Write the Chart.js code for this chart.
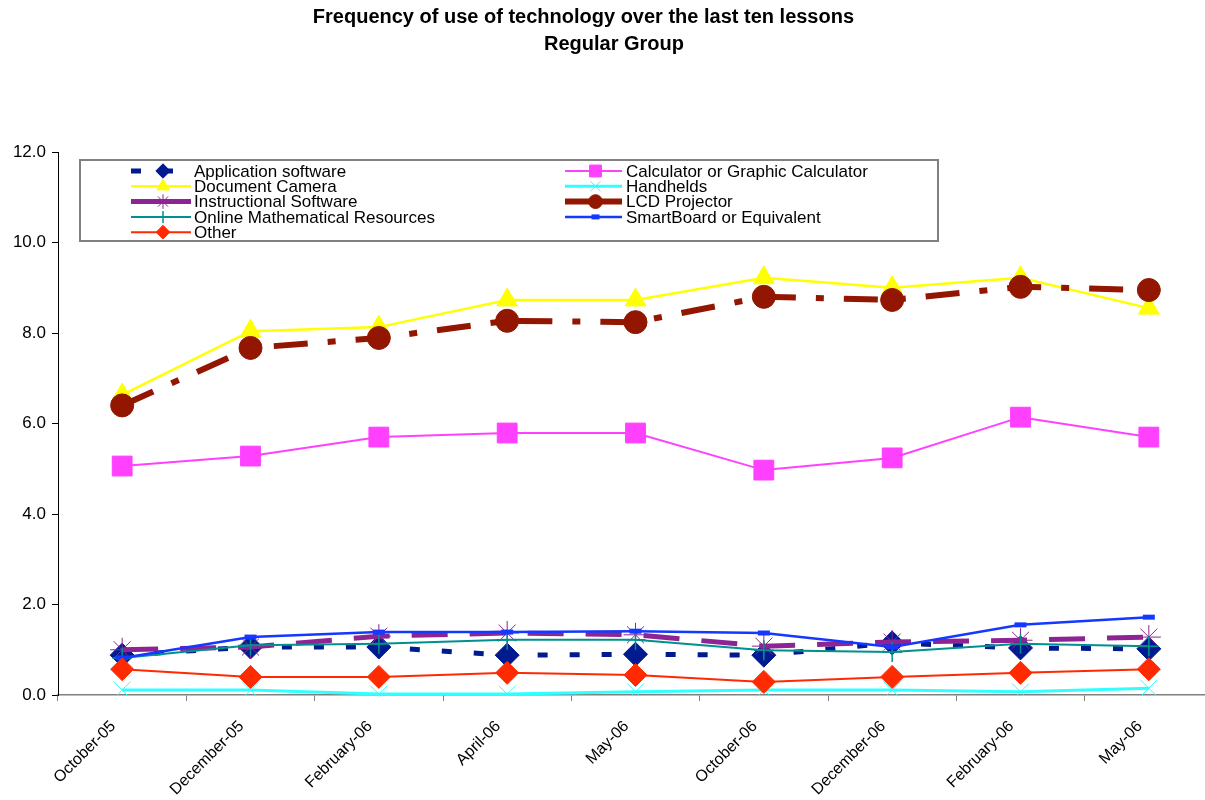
<!DOCTYPE html>
<html>
<head>
<meta charset="utf-8">
<script src="https://cdn.jsdelivr.net/npm/chart.js@4.4.1/dist/chart.umd.min.js"></script>
<style>
  html, body { margin: 0; padding: 0; background: #fff; overflow: hidden; }
</style>
</head>
<body>
<canvas id="techChart" width="1228" height="800"></canvas>
<script>
// lesson dates (labels as printed on the original chart)
var lessonLabels = ['October-05', 'December-05', 'February-06', 'April-06', 'May-06',
                    'October-06', 'December-06', 'February-06', 'May-06'];

var appSoftware   = [0.88, 1.06, 1.06, 0.88, 0.90, 0.88, 1.15, 1.04, 1.02];
var calculator    = [5.06, 5.28, 5.70, 5.79, 5.79, 4.97, 5.24, 6.14, 5.70];
var docCamera     = [6.63, 8.04, 8.13, 8.73, 8.73, 9.22, 9.00, 9.22, 8.55];
var handhelds     = [0.11, 0.11, 0.02, 0.02, 0.07, 0.11, 0.11, 0.07, 0.15];
var instructional = [1.00, 1.06, 1.30, 1.37, 1.33, 1.08, 1.17, 1.21, 1.28];
var lcdProjector  = [6.40, 7.67, 7.89, 8.27, 8.24, 8.80, 8.73, 9.02, 8.95];
var onlineMath    = [0.82, 1.10, 1.13, 1.22, 1.22, 0.99, 0.95, 1.13, 1.08];
var smartBoard    = [0.82, 1.28, 1.39, 1.39, 1.41, 1.37, 1.06, 1.55, 1.72];
var otherTech     = [0.57, 0.40, 0.40, 0.49, 0.44, 0.29, 0.40, 0.49, 0.57];

var yTicks = { min: 0, max: 12, step: 2 };

var FONT = '"Liberation Sans", Arial, sans-serif';

function series(label, data, color, width, dash, style, radius, pbw) {
    return {
        label: label,
        data: data,
        borderColor: color,
        backgroundColor: color,
        borderWidth: width,
        borderDash: dash,
        pointStyle: style,
        pointRadius: radius,
        pointHoverRadius: radius,
        pointBackgroundColor: color,
        pointBorderColor: color,
        pointBorderWidth: pbw,
        tension: 0,
        fill: false
    };
}

var datasets = [
    series('Application software', appSoftware, '#001A8F', 5, [10, 22], 'rectRot', 12, 1),
    series('Calculator or Graphic Calculator', calculator, '#FF40FF', 2, [], 'rect', 14, 1),
    series('Document Camera', docCamera, '#FFFF00', 2.5, [], 'triangle', 12, 1),
    series('Handhelds', handhelds, '#30FFFF', 3, [], 'crossRot', 12, 1),
    series('Instructional Software', instructional, '#8E2494', 5, [36, 22], 'star', 12, 1),
    series('LCD Projector', lcdProjector, '#931600', 6, [34, 20, 8, 20], 'circle', 11.5, 1),
    series('Online Mathematical Resources', onlineMath, '#009090', 2, [], 'cross', 10, 1.5),
    series('SmartBoard or Equivalent', smartBoard, '#1438FF', 2.5, [], 'line', 6, 5),
    series('Other', otherTech, '#FF2A00', 2, [], 'rectRot', 11.5, 1)
];
// later series are painted over earlier ones
datasets.forEach(function (d, i) { d.order = datasets.length - i; });

var legendBox = {
    id: 'legendBox',
    afterDraw: function (chart) {
        var ctx = chart.ctx;
        ctx.save();
        ctx.fillStyle = '#ffffff';
        ctx.fillRect(80, 160, 858, 81);
        ctx.strokeStyle = '#808080';
        ctx.lineWidth = 2;
        ctx.strokeRect(80, 160, 858, 81);
        ctx.font = '17px ' + FONT;
        ctx.textBaseline = 'middle';
        chart.data.datasets.forEach(function (ds, i) {
            var col = i % 2, row = Math.floor(i / 2);
            var x1 = col ? 565 : 131, x2 = col ? 622 : 191, tx = col ? 626 : 194;
            var y = 171 + row * 15.3;
            ctx.strokeStyle = ds.borderColor;
            ctx.lineWidth = ds.borderWidth;
            // only the square-dot style shows its dashes in the key
            ctx.setLineDash(i === 0 ? ds.borderDash : []);
            ctx.beginPath();
            ctx.moveTo(x1, y);
            ctx.lineTo(x2, y);
            ctx.stroke();
            ctx.setLineDash([]);
            ctx.fillStyle = ds.pointBackgroundColor;
            ctx.strokeStyle = ds.pointBorderColor;
            ctx.lineWidth = ds.pointBorderWidth;
            Chart.helpers.drawPoint(ctx, {
                pointStyle: ds.pointStyle,
                radius: ds.pointStyle === 'line' ? 4 : ds.pointRadius * 0.6,
                rotation: 0,
                borderWidth: ds.pointBorderWidth
            }, (x1 + x2) / 2 + 2, y);
            ctx.fillStyle = '#000000';
            ctx.fillText(ds.label, tx, y + 1);
        });
        ctx.restore();
    }
};

var ctx = document.getElementById('techChart');
var techChart = new Chart(ctx, {
    type: 'line',
    data: {
        labels: lessonLabels,
        datasets: datasets
    },
    options: {
        responsive: false,
        animation: false,
        layout: { padding: 0 },
        plugins: {
            legend: { display: false },
            tooltip: { enabled: false },
            title: {
                display: true,
                text: ['Frequency of use of technology over the last ten lessons           ', 'Regular Group'],
                color: '#000000',
                font: { family: FONT, size: 20, weight: 'bold', lineHeight: 1.35 },
                padding: { top: 4, bottom: 94 }
            }
        },
        scales: {
            x: {
                offset: true,
                grid: {
                    offset: true,
                    drawOnChartArea: false,
                    color: '#808080',
                    tickLength: 6
                },
                border: { color: '#808080', width: 1.5 },
                ticks: {
                    color: '#000000',
                    autoSkip: false,
                    minRotation: 45,
                    maxRotation: 45,
                    padding: 16,
                    labelOffset: -9,
                    font: { family: FONT, size: 16 }
                },
                afterFit: function (scale) {
                    scale.height = 105;
                    scale.paddingLeft = 0;
                    scale.paddingRight = 0;
                }
            },
            y: {
                min: yTicks.min,
                max: yTicks.max,
                grid: {
                    drawOnChartArea: false,
                    color: '#000000',
                    tickLength: 6
                },
                border: { color: '#000000', width: 1 },
                ticks: {
                    stepSize: yTicks.step,
                    color: '#000000',
                    padding: 6,
                    font: { family: FONT, size: 17 },
                    callback: function (v) { return v.toFixed(1); }
                },
                afterFit: function (scale) { scale.width = 58; }
            }
        }
    },
    plugins: [legendBox]
});
</script>
</body>
</html>
